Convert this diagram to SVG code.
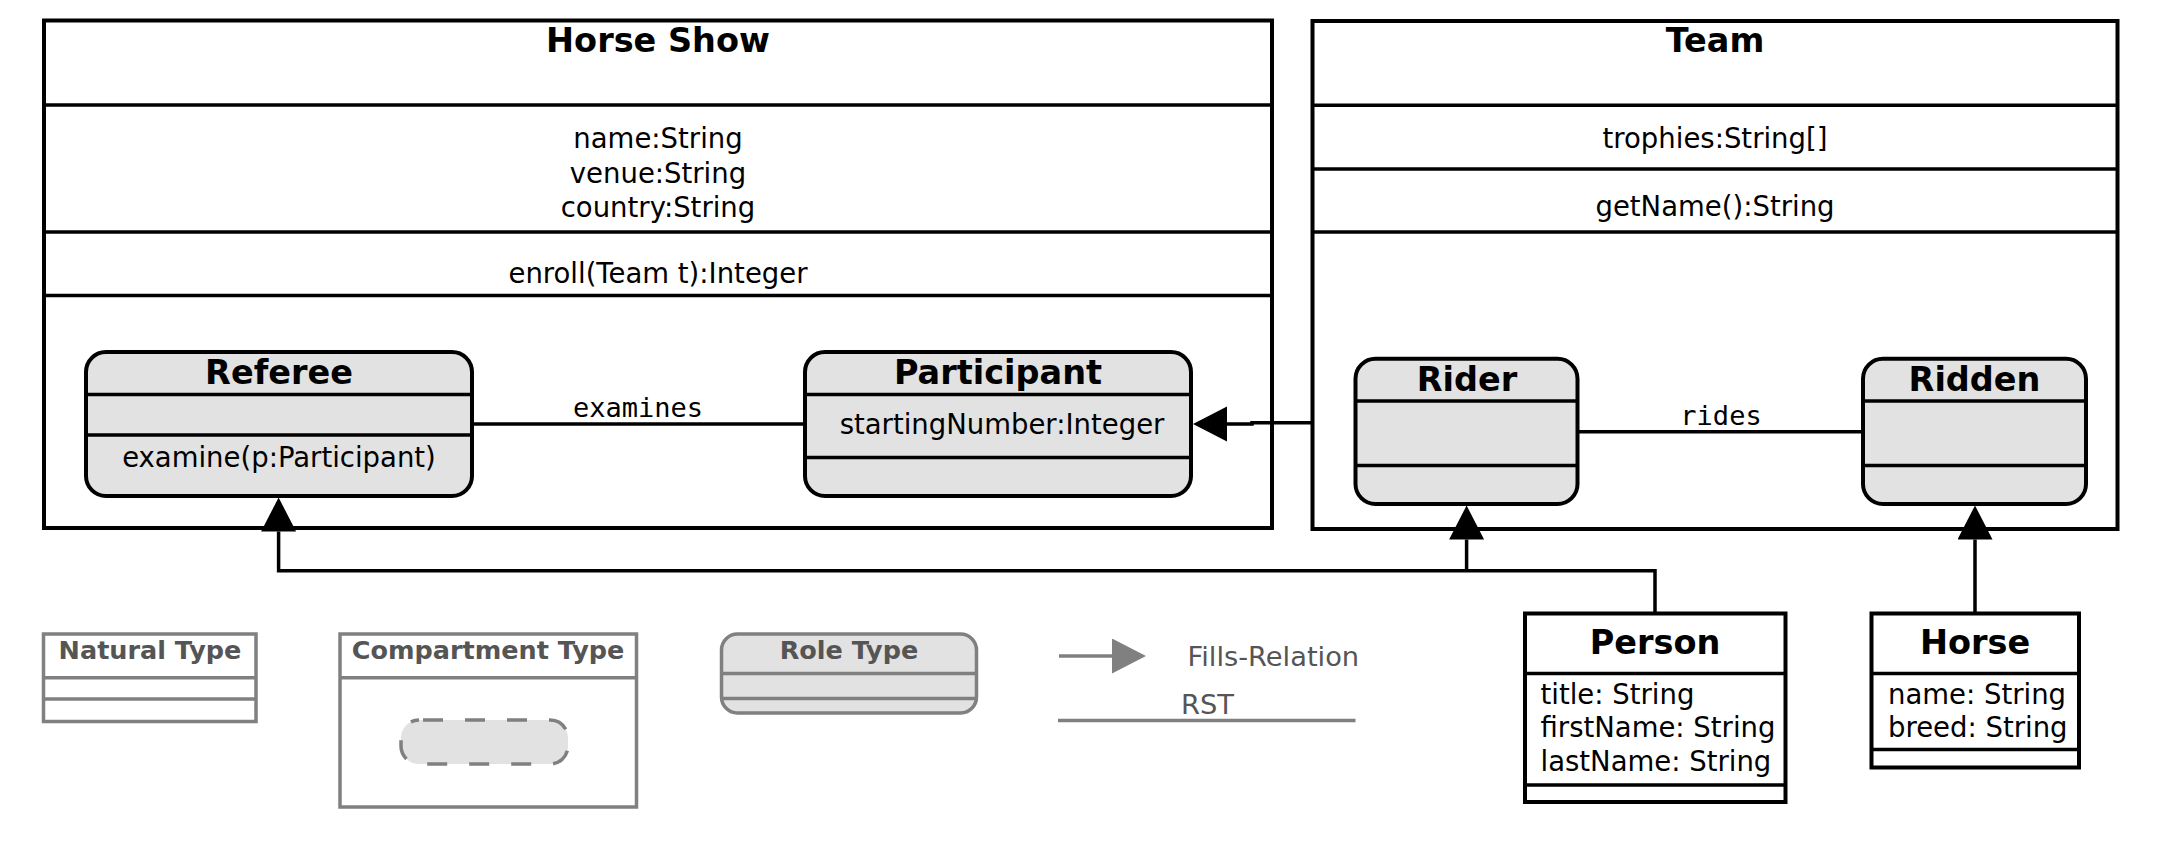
<svg xmlns="http://www.w3.org/2000/svg" width="2179" height="843" viewBox="0 0 2179 843">
<defs>
<style>
.box{fill:#fff;stroke:#000;stroke-width:4}
.role{fill:#e2e2e2;stroke:#000;stroke-width:4}
.sep{stroke:#000;stroke-width:3.5}
.t{font-family:"DejaVu Sans","Liberation Sans",sans-serif;font-size:27.5px;fill:#000}
.c{text-anchor:middle}
.b{font-family:"DejaVu Sans","Liberation Sans",sans-serif;font-size:33.5px;font-weight:bold;fill:#000;text-anchor:middle}
.m{font-family:"DejaVu Sans Mono","Liberation Mono",monospace;font-size:27px;fill:#000;text-anchor:middle}
.conn{fill:none;stroke:#000;stroke-width:3.5}
.lg{fill:#fff;stroke:#808080;stroke-width:3.5}
.lgr{fill:#e2e2e2;stroke:#808080;stroke-width:3.5}
.lgs{stroke:#808080;stroke-width:3.5}
.lgt{font-family:"DejaVu Sans","Liberation Sans",sans-serif;font-size:25.5px;font-weight:bold;fill:#555;text-anchor:middle}
.lgn{font-family:"DejaVu Sans","Liberation Sans",sans-serif;font-size:27.3px;fill:#555}
</style>
<marker id="fill" markerUnits="userSpaceOnUse" markerWidth="36" markerHeight="36" refX="0" refY="17.5" orient="auto" viewBox="0 0 36 36">
<path d="M0,0 L34,17.5 L0,35 Z" fill="#000"/>
</marker>
<marker id="fillg" markerUnits="userSpaceOnUse" markerWidth="36" markerHeight="36" refX="0" refY="17.5" orient="auto" viewBox="0 0 36 36">
<path d="M0,0 L34,17.5 L0,35 Z" fill="#808080"/>
</marker>
</defs>
<rect width="2179" height="843" fill="#fff"/>

<g id="horseshow">
<rect class="box" x="44" y="20.5" width="1228" height="507.5"/>
<line class="sep" x1="44" y1="105" x2="1272" y2="105"/>
<line class="sep" x1="44" y1="232" x2="1272" y2="232"/>
<line class="sep" x1="44" y1="295.5" x2="1272" y2="295.5"/>
<text class="b" x="658" y="52">Horse Show</text>
<text class="t c" x="658" y="148">name:String</text>
<text class="t c" x="658" y="182.5">venue:String</text>
<text class="t c" x="658" y="217">country:String</text>
<text class="t c" x="658" y="283">enroll(Team t):Integer</text>
</g>

<g id="team">
<rect class="box" x="1312.5" y="21" width="805" height="508"/>
<line class="sep" x1="1312.5" y1="105.3" x2="2117.5" y2="105.3"/>
<line class="sep" x1="1312.5" y1="169" x2="2117.5" y2="169"/>
<line class="sep" x1="1312.5" y1="232" x2="2117.5" y2="232"/>
<text class="b" x="1715" y="52">Team</text>
<text class="t c" x="1715" y="148">trophies:String[]</text>
<text class="t c" x="1715" y="215.5">getName():String</text>
</g>

<g id="referee">
<rect class="role" x="86" y="352" width="386" height="144" rx="20"/>
<line class="sep" x1="86" y1="394.6" x2="472" y2="394.6"/>
<line class="sep" x1="86" y1="435" x2="472" y2="435"/>
<text class="b" x="279" y="384">Referee</text>
<text class="t c" x="279" y="467">examine(p:Participant)</text>
</g>

<g id="participant">
<rect class="role" x="805" y="352" width="386" height="144" rx="20"/>
<line class="sep" x1="805" y1="394.6" x2="1191" y2="394.6"/>
<line class="sep" x1="805" y1="457.6" x2="1191" y2="457.6"/>
<text class="b" x="998" y="384">Participant</text>
<text class="t c" x="1002" y="433.5">startingNumber:Integer</text>
</g>

<g id="rider">
<rect class="role" x="1355.5" y="358.7" width="222" height="145.3" rx="20"/>
<line class="sep" x1="1355.5" y1="401" x2="1577.5" y2="401"/>
<line class="sep" x1="1355.5" y1="465.5" x2="1577.5" y2="465.5"/>
<text class="b" x="1467" y="391">Rider</text>
</g>

<g id="ridden">
<rect class="role" x="1863" y="358.7" width="223" height="145.3" rx="20"/>
<line class="sep" x1="1863" y1="401" x2="2086" y2="401"/>
<line class="sep" x1="1863" y1="465.5" x2="2086" y2="465.5"/>
<text class="b" x="1974.5" y="391">Ridden</text>
</g>

<g id="person">
<rect class="box" x="1525" y="613.5" width="260.5" height="188.5"/>
<line class="sep" x1="1525" y1="673.5" x2="1785.5" y2="673.5"/>
<line class="sep" x1="1525" y1="785" x2="1785.5" y2="785"/>
<text class="b" x="1655" y="654">Person</text>
<text class="t" x="1540.5" y="704">title: String</text>
<text class="t" x="1540.5" y="737">firstName: String</text>
<text class="t" x="1540.5" y="770.5">lastName: String</text>
</g>

<g id="horse">
<rect class="box" x="1871.5" y="613.5" width="207.5" height="154"/>
<line class="sep" x1="1871.5" y1="673.5" x2="2079" y2="673.5"/>
<line class="sep" x1="1871.5" y1="749.5" x2="2079" y2="749.5"/>
<text class="b" x="1975" y="654">Horse</text>
<text class="t" x="1888" y="704">name: String</text>
<text class="t" x="1888" y="737">breed: String</text>
</g>

<g id="connectors">
<line class="conn" x1="472" y1="424" x2="805" y2="424"/>
<text class="m" x="638" y="417">examines</text>
<line class="conn" x1="1577.5" y1="431.7" x2="1863" y2="431.7"/>
<text class="m" x="1721" y="424.8">rides</text>
<path class="conn" d="M1312.5,422.7 H1252 V424 H1227" marker-end="url(#fill)"/>
<path class="conn" d="M1655,613.5 V570.8 H278.6 V531.5" marker-end="url(#fill)"/>
<path class="conn" d="M1466.6,570.8 V539.5" marker-end="url(#fill)"/>
<path class="conn" d="M1975,613.5 V539.5" marker-end="url(#fill)"/>
</g>

<g id="legend">
<g id="legend-natural">
<rect class="lg" x="43.5" y="634" width="212.5" height="87.5"/>
<line class="lgs" x1="43.5" y1="677.8" x2="256" y2="677.8"/>
<line class="lgs" x1="43.5" y1="699" x2="256" y2="699"/>
<text class="lgt" x="150" y="659">Natural Type</text>
</g>
<g id="legend-compartment">
<rect class="lg" x="340" y="634" width="296.5" height="173"/>
<line class="lgs" x1="340" y1="677.8" x2="636.5" y2="677.8"/>
<text class="lgt" x="488" y="659">Compartment Type</text>
<rect x="401" y="720" width="167" height="44" rx="18" fill="#e2e2e2" stroke="#808080" stroke-width="3.5" stroke-dasharray="20,22" stroke-dashoffset="-4"/>
</g>
<g id="legend-role">
<rect class="lgr" x="721.5" y="634" width="255" height="79" rx="16"/>
<line class="lgs" x1="721.5" y1="673.4" x2="976.5" y2="673.4"/>
<line class="lgs" x1="721.5" y1="698.6" x2="976.5" y2="698.6"/>
<text class="lgt" x="849" y="659">Role Type</text>
</g>
<g id="legend-fills">
<line x1="1059" y1="656" x2="1112" y2="656" stroke="#808080" stroke-width="3.5" marker-end="url(#fillg)"/>
<text class="lgn" x="1187.5" y="666">Fills-Relation</text>
</g>
<g id="legend-rst">
<line class="lgs" x1="1058" y1="720.5" x2="1355.5" y2="720.5"/>
<text class="lgn" x="1181" y="713.5">RST</text>
</g>
</g>
</svg>
